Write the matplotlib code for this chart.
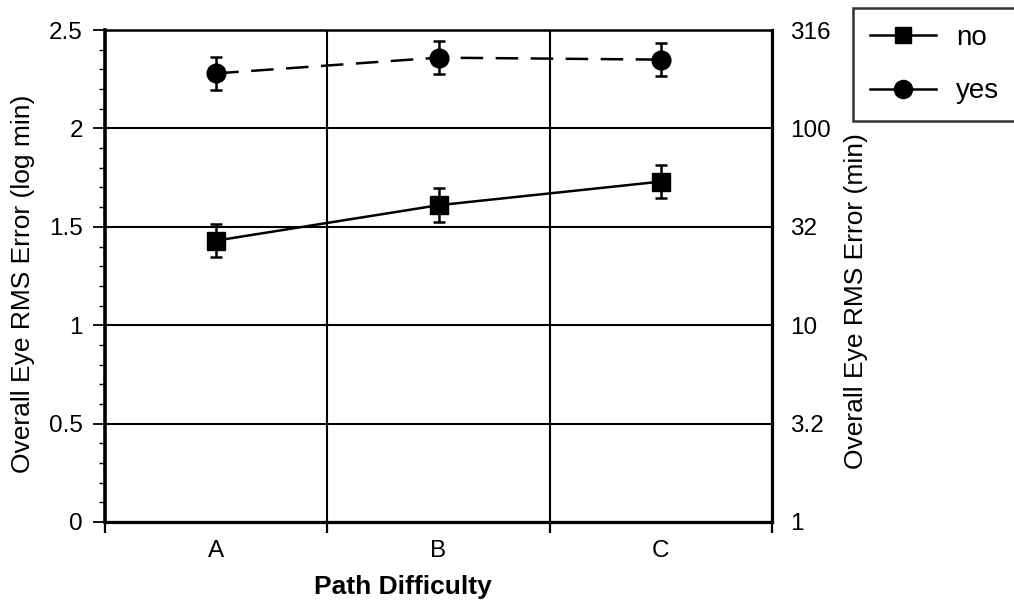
import numpy as np
import matplotlib
matplotlib.use("Agg")
import matplotlib.pyplot as plt
from matplotlib.lines import Line2D

plt.rcParams['font.family'] = ['Liberation Sans', 'DejaVu Sans']

# data
categories = ['A', 'B', 'C']
no_vals = [1.43, 1.61, 1.73]
no_err = [0.085, 0.085, 0.085]
yes_vals = [2.28, 2.36, 2.35]
yes_err = [0.085, 0.085, 0.085]
left_ticks = [0, 0.5, 1, 1.5, 2, 2.5]
left_labels = ['0', '0.5', '1', '1.5', '2', '2.5']
right_labels = ['1', '3.2', '10', '32', '100', '316']

FS = 17.5

fig = plt.figure(figsize=(10.14, 6.02), dpi=100)
ax = fig.add_axes([0.1036, 0.133, 0.6578, 0.817])

x = np.arange(1, len(categories) + 1)

ax.errorbar(x, no_vals, yerr=no_err, fmt='-s', color='black', lw=1.8,
            markersize=13, capsize=4, elinewidth=1.8, capthick=1.8, zorder=5)
ax.errorbar(x, yes_vals, yerr=yes_err, fmt='o', color='black',
            markersize=13.5, capsize=4, elinewidth=1.8, capthick=1.8, zorder=5)
ax.plot(x, yes_vals, color='black', lw=1.8, ls=(0, (9, 5)), zorder=4)

ax.set_xlim(0.5, 3.5)
ax.set_ylim(0, 2.5)

# grid at category boundaries
ax.set_xticks(x)
ax.set_xticklabels(categories, fontsize=FS)
ax.set_xticks(np.arange(0.5, 4, 1), minor=True)
ax.tick_params(axis='x', which='major', length=0, pad=13)
ax.tick_params(axis='x', which='minor', length=8, width=1.6, direction='out')
ax.grid(True, which='minor', axis='x', color='black', lw=1.5)

ax.set_yticks(left_ticks)
ax.set_yticklabels(left_labels, fontsize=FS)
ax.set_yticks(np.arange(0, 2.51, 0.1), minor=True)
ax.tick_params(axis='y', which='major', length=9, width=1.3, pad=7)
ax.tick_params(axis='y', which='minor', length=4, width=1)
ax.grid(True, which='major', axis='y', color='black', lw=1.5)

for side, w in [('left', 2.6), ('bottom', 2.3), ('top', 1.8), ('right', 2.3)]:
    ax.spines[side].set_linewidth(w)

ax.set_xlabel('Path Difficulty', fontsize=19, fontweight='bold')
ax.xaxis.set_label_coords(0.447, -0.108)
ax.set_ylabel('Overall Eye RMS Error (log min)', fontsize=19)
ax.yaxis.set_label_coords(-0.105, 0.485)

ax2 = ax.twinx()
ax2.set_ylim(0, 2.5)
ax2.set_yticks(left_ticks)
ax2.set_yticklabels(right_labels, fontsize=FS)
ax2.tick_params(axis='y', length=0, pad=13)
for side in ['left', 'right', 'top', 'bottom']:
    ax2.spines[side].set_visible(False)
ax2.set_ylabel('Overall Eye RMS Error (min)', fontsize=19)
ax2.yaxis.set_label_coords(1.108, 0.45)

handles = [
    Line2D([], [], color='black', lw=1.8, marker='s', markersize=12),
    Line2D([], [], color='black', lw=1.8, marker='o', markersize=13),
]
leg = fig.legend(handles, ['no', 'yes'], loc='upper left',
                 bbox_to_anchor=(853 / 1014, 1 - 8 / 602 - 0.2, 0.2, 0.2),
                 mode='expand', fontsize=20,
                 frameon=True, fancybox=False, edgecolor='black',
                 handlelength=2.4, labelspacing=1.0, borderpad=0.6,
                 handletextpad=0.7, borderaxespad=0)
leg.get_frame().set_linewidth(1.8)

fig.savefig('out.png', dpi=100)
